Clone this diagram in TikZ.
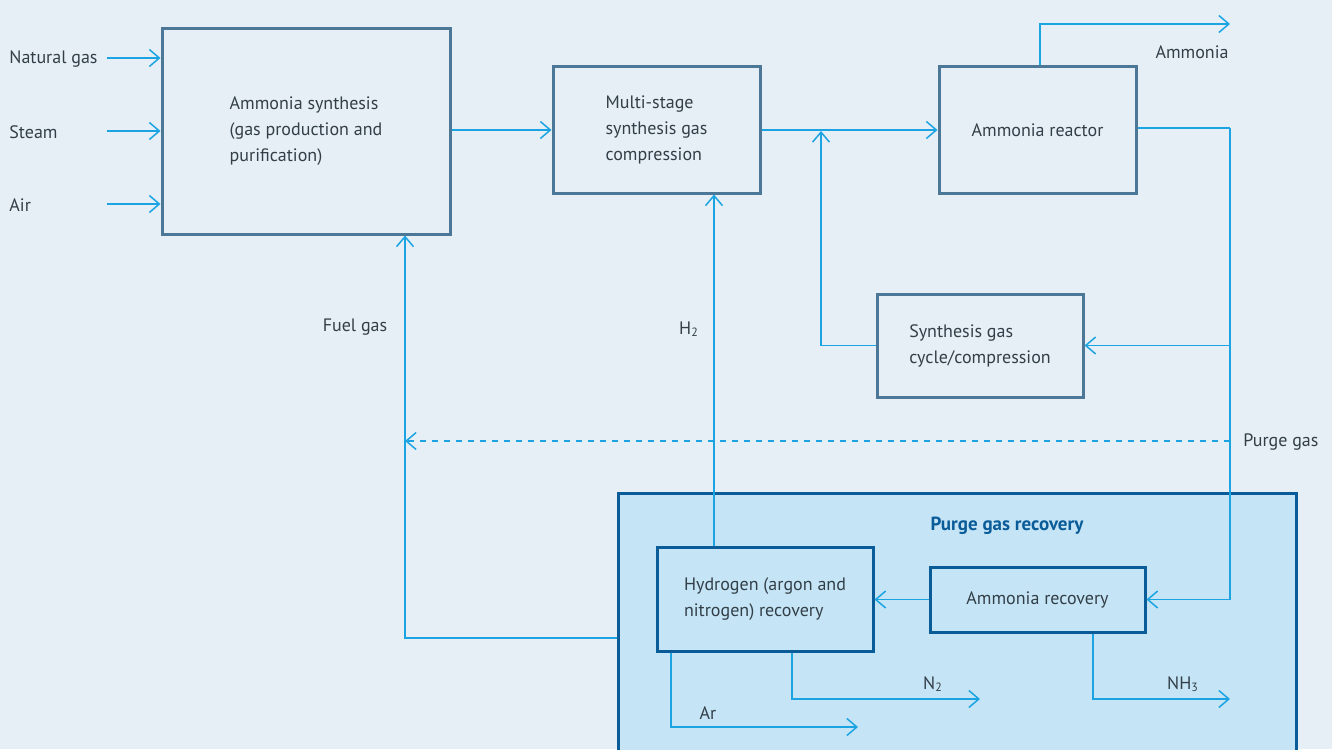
\documentclass[tikz,border=0pt]{standalone}
\usepackage{fontspec}
\setmainfont{PT Sans}
\usepackage{tikz}
\usetikzlibrary{arrows.meta, positioning}

\definecolor{bgcol}{HTML}{E6EFF6}
\definecolor{boxcol}{HTML}{4D7796}
\definecolor{flowcol}{HTML}{1CA4E2}
\definecolor{recfill}{HTML}{C5E5F6}
\definecolor{reccol}{HTML}{0A5C99}
\definecolor{txtcol}{HTML}{333F48}

\tikzset{
    unit/.style={draw=boxcol, line width=1.5pt, inner sep=0pt, align=left, text=txtcol},
    subunit/.style={unit, draw=reccol, fill=recfill},
    flow/.style={draw=flowcol, line width=0.75pt, -{Straight Barb[length=5pt,width=8.5pt]}},
    lbl/.style={text=txtcol, inner sep=0pt}
}

\begin{document}
\begin{tikzpicture}[x=0.5pt, y=-0.5pt, font=\fontsize{9}{13}\selectfont]
        \useasboundingbox (0,0) rectangle (1332,749);
        \clip (0,0) rectangle (1332,749);
        \fill[bgcol] (0,0) rectangle (1332,749);

        % Draw the units
        \node[unit, minimum width=144pt, minimum height=102.5pt] (synth)   at (306,131.5) {Ammonia synthesis\\(gas production and\\purification)};
        \node[unit, minimum width=103.5pt, minimum height=63pt]  (comp)    at (656.5,130) {Multi-stage\\synthesis gas\\compression};
        \node[unit, minimum width=98.5pt, minimum height=63pt]   (reactor) at (1037.5,130) {Ammonia reactor};
        \node[unit, minimum width=103pt, minimum height=51.5pt]  (cycle)   at (980,345.5) {Synthesis gas\\cycle/compression};

        % Purge gas recovery
        \node[subunit, minimum width=339pt, minimum height=135pt] (recovery) at (957,628) {};
        \node[lbl, text=reccol, font=\fontsize{9.5}{13}\selectfont\bfseries] (rectitle) at (1007,526) {Purge gas recovery};
        \node[subunit, minimum width=108pt, minimum height=52pt]   (hydro)  at (765,599) {Hydrogen (argon and\\nitrogen) recovery};
        \node[subunit, minimum width=107.5pt, minimum height=32.5pt] (nh3rec) at (1037.5,599.5) {Ammonia recovery};

        % Feeds
        \node[lbl, anchor=west] (ng)    at (9,59)  {Natural gas};
        \node[lbl, anchor=west] (steam) at (9,132) {Steam};
        \node[lbl, anchor=west] (air)   at (9,205) {Air};
        \coordinate (ngin)    at (107,58);
        \coordinate (steamin) at (107,131);
        \coordinate (airin)   at (107,204);
        \draw[flow] (ngin)    -- (ngin -| synth.west);
        \draw[flow] (steamin) -- (steamin -| synth.west);
        \draw[flow] (airin)   -- (airin -| synth.west);

        % Main line
        \draw[flow] (synth.east |- comp.west) -- (comp.west);
        \draw[flow] (comp.east) -- (reactor.west);
        \coordinate (nh3out) at (1230,24);
        \draw[flow] (reactor.north -| 1040,0) |- (nh3out);
        \node[lbl] (nh3lbl) at (1192,52) {Ammonia};

        % Recycle and purge
        \coordinate (split) at (1230,128);
        \draw[line width=0.75pt, draw=flowcol] (reactor.east |- split) -- (split);
        \draw[flow] (split) |- (nh3rec.east);
        \draw[flow] (split |- cycle.east) -- (cycle.east);
        \coordinate (mix) at (821,131);
        \draw[flow] (cycle.west) -| (mix);
        \coordinate (purge) at (1230,441);
        \coordinate (fuelin) at (405,441);
        \draw[flow, dashed] (purge) -- (fuelin);
        \node[lbl, anchor=west] (purgelbl) at (1243,442) {Purge gas};

        % Returns
        \draw[flow] (recovery.west |- 0,638) -| (synth.south -| 405,0);
        \node[lbl] (fuellbl) at (355,327) {Fuel gas};
        \draw[flow] (hydro.north -| 714,0) -- (comp.south -| 714,0);
        \node[lbl] (h2lbl) at (689,329) {H\textsubscript{2}};
        \draw[flow] (nh3rec.west) -- (nh3rec.west -| hydro.east);

        % Products
        \coordinate (arout)  at (858,727);
        \coordinate (n2out)  at (980,699);
        \coordinate (nh3out2) at (1230,699);
        \draw[flow] (hydro.south -| 671,0) |- (arout);
        \draw[flow] (hydro.south -| 792,0) |- (n2out);
        \draw[flow] (nh3rec.south -| 1093,0) |- (nh3out2);
        \node[lbl] (arlbl)  at (708,713) {Ar};
        \node[lbl] (n2lbl)  at (933,684) {N\textsubscript{2}};
        \node[lbl] (nh3lbl2) at (1183,684) {NH\textsubscript{3}};
\end{tikzpicture}
\end{document}
